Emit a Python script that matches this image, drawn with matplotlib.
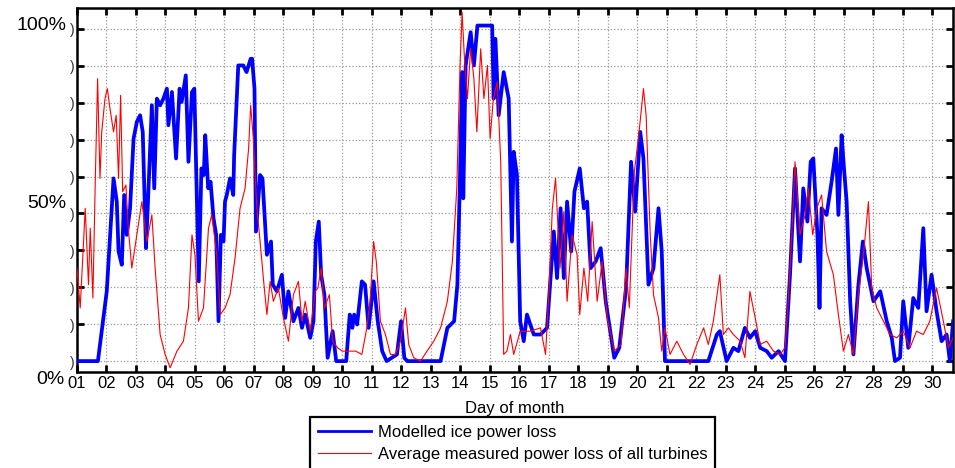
import matplotlib
matplotlib.use('Agg')
import matplotlib.pyplot as plt
import numpy as np

plt.rcParams['font.family'] = ['Liberation Sans', 'DejaVu Sans']

# modelled ice power loss (day of month, % of rated)
model_day = [1.0, 1.71, 2.01, 2.24, 2.35, 2.41, 2.52, 2.60, 2.69, 2.80, 2.92, 3.03, 3.14, 3.23,
             3.34, 3.39, 3.54, 3.62, 3.71, 3.82, 3.93, 4.05, 4.10, 4.22, 4.36, 4.48, 4.55, 4.69,
             4.78, 4.90, 4.98, 5.13, 5.22, 5.30, 5.35, 5.45, 5.53, 5.63, 5.72, 5.80, 5.88, 5.97,
             6.02, 6.08, 6.19, 6.30, 6.33, 6.47, 6.64, 6.75, 6.89, 6.94, 7.02, 7.07, 7.21, 7.29,
             7.44, 7.58, 7.64, 7.78, 7.95, 8.06, 8.17, 8.34, 8.51, 8.63, 8.74, 8.91, 9.02, 9.10,
             9.20, 9.28, 9.39, 9.50, 9.67, 9.79, 10.13, 10.25, 10.34, 10.40, 10.50, 10.66, 10.77,
             10.89, 11.06, 11.20, 11.35, 11.50, 11.85, 11.99, 12.10, 12.20, 13.33, 13.56, 13.79,
             13.90, 13.99, 14.06, 14.10, 14.18, 14.35, 14.46, 14.58, 14.92, 15.08, 15.13, 15.19,
             15.30, 15.47, 15.64, 15.75, 15.81, 15.92, 16.03, 16.15, 16.26, 16.49, 16.72, 16.94,
             17.17, 17.28, 17.40, 17.51, 17.62, 17.76, 17.87, 18.05, 18.19, 18.30, 18.42, 18.59,
             18.76, 18.93, 19.22, 19.39, 19.62, 19.79, 19.93, 20.10, 20.21, 20.38, 20.55, 20.72,
             20.83, 20.94, 22.41, 22.70, 22.80, 23.03, 23.26, 23.43, 23.65, 23.82, 24.00, 24.17,
             24.39, 24.56, 24.79, 25.01, 25.18, 25.35, 25.52, 25.63, 25.77, 25.88, 25.97, 26.11,
             26.18, 26.25, 26.42, 26.59, 26.74, 26.82, 26.93, 27.01, 27.10, 27.22, 27.33, 27.50,
             27.65, 27.78, 28.01, 28.24, 28.46, 28.63, 28.74, 28.91, 29.02, 29.19, 29.36, 29.53,
             29.70, 29.81, 29.98, 30.15, 30.32, 30.49, 30.60, 30.71]
model_loss = [0, 0, 21, 55, 48, 33, 29, 50, 38, 46, 67, 72, 74, 69,
              34, 44, 77, 52, 79, 77, 79, 82, 71, 81, 61, 82, 78, 86,
              60, 81, 82, 24, 58, 56, 68, 52, 54, 43, 38, 12, 38, 36,
              48, 50, 55, 50, 62, 89, 89, 87, 91, 91, 82, 39, 56, 55,
              32, 36, 23, 21, 26, 13, 21, 12, 16, 10, 14, 7, 12, 36,
              42, 26, 20, 1, 9, 0, 0, 14, 10, 14, 11, 24, 23,
              10, 24, 12, 3, 0, 2, 12, 1, 0, 0, 10, 12,
              23, 56, 87, 49, 89, 99, 89, 101, 101, 101, 79, 97,
              74, 87, 79, 36, 63, 56, 12, 6, 14, 8, 8, 10,
              39, 25, 46, 25, 48, 33, 51, 58, 46, 48, 28, 30,
              34, 18, 1, 4, 22, 60, 45, 69, 61, 23, 28, 46,
              33, 0, 0, 8, 9, 0, 4, 3, 10, 7, 9, 4,
              3, 1, 3, 0, 26, 58, 30, 52, 42, 60, 61, 38,
              16, 46, 44, 54, 64, 44, 68, 58, 48, 18, 2, 23,
              36, 28, 18, 21, 12, 7, 0, 1, 18, 4, 19, 16,
              40, 15, 26, 15, 6, 8, 0, 12]

# average measured power loss of all turbines
meas_day = [1.0, 1.11, 1.28, 1.39, 1.45, 1.54, 1.62, 1.70, 1.78, 1.84, 1.95, 2.03, 2.12, 2.24,
            2.33, 2.41, 2.48, 2.55, 2.66, 2.74, 2.86, 3.03, 3.20, 3.37, 3.54, 3.65, 3.82, 3.99,
            4.16, 4.39, 4.61, 4.78, 4.90, 5.00, 5.12, 5.29, 5.46, 5.57, 5.74, 5.86, 6.02, 6.19,
            6.36, 6.53, 6.70, 6.82, 6.89, 6.98, 7.10, 7.21, 7.32, 7.44, 7.55, 7.66, 7.83, 8.00,
            8.17, 8.34, 8.51, 8.63, 8.74, 8.91, 9.08, 9.17, 9.28, 9.39, 9.56, 9.67, 9.84, 10.00,
            10.25, 10.45, 10.66, 10.83, 10.94, 11.06, 11.15, 11.29, 11.46, 11.63, 11.80, 11.97,
            12.14, 12.25, 12.42, 12.65, 12.87, 13.10, 13.33, 13.56, 13.73, 13.88, 13.99, 14.06,
            14.14, 14.24, 14.35, 14.46, 14.56, 14.69, 14.80, 14.92, 15.01, 15.12, 15.25, 15.37,
            15.47, 15.58, 15.70, 15.81, 16.03, 16.37, 16.72, 16.89, 17.00, 17.12, 17.23, 17.38,
            17.51, 17.62, 17.79, 17.96, 18.05, 18.19, 18.32, 18.47, 18.64, 18.81, 18.98, 19.22,
            19.45, 19.62, 19.73, 19.90, 20.05, 20.21, 20.30, 20.44, 20.55, 20.72, 20.83, 20.94,
            21.11, 21.34, 21.57, 21.79, 22.02, 22.25, 22.41, 22.58, 22.80, 22.92, 23.09, 23.26,
            23.49, 23.65, 23.82, 24.00, 24.17, 24.39, 24.62, 24.84, 25.01, 25.12, 25.24, 25.35,
            25.52, 25.69, 25.80, 25.95, 26.09, 26.25, 26.42, 26.65, 26.82, 26.99, 27.16, 27.33,
            27.50, 27.67, 27.84, 27.95, 28.12, 28.35, 28.57, 28.80, 29.02, 29.25, 29.47, 29.70,
            29.92, 30.15, 30.38, 30.55, 30.71]
meas_loss = [28, 16, 46, 23, 40, 19, 54, 85, 55, 69, 79, 82, 76, 69,
             74, 55, 80, 51, 53, 40, 28, 38, 48, 36, 44, 28, 8, 2,
             -2, 3, 6, 16, 38, 32, 12, 16, 40, 44, 32, 14, 16, 20,
             31, 46, 52, 64, 77, 67, 46, 36, 25, 14, 24, 18, 22, 13,
             6, 20, 24, 12, 18, 9, 21, 22, 28, 16, 20, 6, 4, 3,
             3, 3, 2, 10, 18, 36, 30, 12, 8, 2, 2, 6,
             16, 5, 1, 0, 3, 6, 10, 18, 30, 52, 89, 105,
             91, 79, 94, 85, 69, 94, 79, 89, 67, 79, 84, 60,
             2, 3, 8, 2, 9, 9, 10, 2, 20, 46, 55, 28,
             45, 18, 38, 32, 14, 28, 18, 42, 18, 30, 13, 3,
             5, 28, 16, 57, 68, 82, 74, 38, 20, 13, 3, 10,
             2, 6, 2, -1, 5, 10, 5, 12, 26, 8, 10, 8,
             6, 1, 21, 13, 5, 6, 3, 2, 4, 18, 38, 60,
             38, 44, 52, 38, 46, 50, 33, 26, 14, 3, 8, 2,
             20, 32, 48, 22, 16, 12, 8, 7, 9, 4, 9, 8,
             12, 22, 12, 4, 7]

days = np.arange(1, 31)
day_labels = ['%02d' % d for d in days]

fig = plt.figure(figsize=(9.55, 4.68), dpi=100)
ax = fig.add_axes([0.0806, 0.205, 0.9174, 0.778])

ax.plot(model_day, model_loss, color='#0000ff', lw=2.7, label='Modelled ice power loss', zorder=3)
ax.plot(meas_day, meas_loss, color='#ff0000', lw=0.8,
        label='Average measured power loss of all turbines', zorder=4)

ax.set_xlim(1, 30.71)
ax.set_ylim(-3.3, 106.3)
ax.set_xticks(days)
ax.set_xticklabels(day_labels, fontsize=12)
yt = np.linspace(0, 100, 10)
ax.set_yticks(yt)
ax.set_yticklabels([')'] * len(yt), fontsize=10, color='#333333')
ax.tick_params(axis='both', direction='in', length=5, width=2, top=True, right=True)
ax.tick_params(axis='x', pad=3)
ax.tick_params(axis='y', pad=2)
ax.grid(True, color='#999999', linestyle=':', linewidth=0.9)
for s in ax.spines.values():
    s.set_linewidth(1.8)

ax.set_xlabel('Day of month', fontsize=12, labelpad=7)

fig.text(66 / 955, 1 - 25 / 468, '100%', fontsize=14, ha='right', va='center')
fig.text(66 / 955, 1 - 203 / 468, '50%', fontsize=14, ha='right', va='center')
fig.text(64 / 955, 1 - 380 / 468, '0%', fontsize=14, ha='right', va='center')

leg = ax.legend(loc='upper left', bbox_to_anchor=(310 / 955, 1 - 417 / 468),
                bbox_transform=fig.transFigure, borderaxespad=0, fontsize=12,
                handlelength=3.2, handletextpad=0.4, labelspacing=0.45,
                borderpad=0.45, fancybox=False, framealpha=1)
leg.get_frame().set_edgecolor('black')
leg.get_frame().set_linewidth(1.6)
leg.get_lines()[0].set_linewidth(2.0)

fig.savefig('out.png', dpi=100)
